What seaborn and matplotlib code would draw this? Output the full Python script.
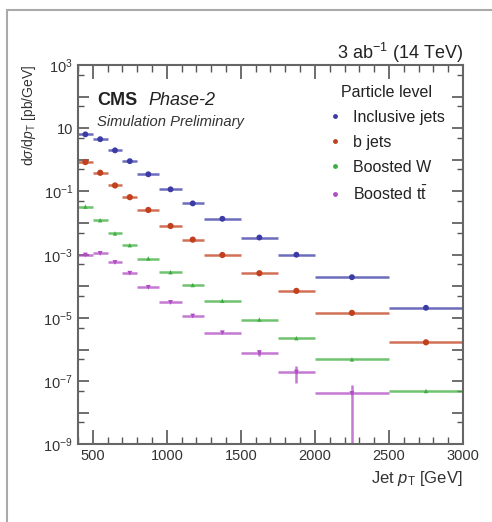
import numpy as np
import pandas as pd
import seaborn as sns
import matplotlib.pyplot as plt
from matplotlib.ticker import FixedLocator, FuncFormatter, MultipleLocator
from matplotlib.lines import Line2D

# bin edges in jet pT [GeV]
bin_edges = [400, 500, 600, 700, 800, 950, 1100, 1250, 1500, 1750, 2000, 2500, 3000]

# dsigma/dpT [pb/GeV]
inclusive = [6.4, 4.5, 2.0, 0.91, 0.35, 0.117, 0.042, 0.0137, 0.0035, 1.0e-3, 1.95e-4, 2.1e-5]
bjets = [0.85, 0.39, 0.155, 0.066, 0.026, 0.0081, 0.0030, 9.8e-4, 2.6e-4, 7.2e-5, 1.45e-5, 1.7e-6]
boosted_w = [0.033, 0.0123, 0.0047, 0.0020, 7.6e-4, 2.8e-4, 1.1e-4, 3.5e-5, 8.9e-6, 2.3e-6, 4.9e-7, 4.9e-8]
boosted_tt = [9.8e-4, 1.1e-3, 5.7e-4, 2.6e-4, 9.3e-5, 3.1e-5, 1.15e-5, 3.4e-6, 8.0e-7, 1.95e-7, 4.1e-8, np.nan]
# vertical uncertainties for boosted ttbar, others negligible
tt_err_up = [0, 0, 0, 0, 0, 0, 0, 0, 1.5e-7, 1.05e-7, 3.3e-8, 0]
tt_err_dn = [0, 0, 0, 0, 0, 0, 0, 0, 1.5e-7, 1.05e-7, 4.1e-8, 0]

labels = ['Inclusive jets', 'b jets', 'Boosted W', r'Boosted t$\mathrm{\bar{t}}$']
colors = ['#3b3ba6', '#c2401e', '#3fae3f', '#b04cc4']
markers = ['o', 'o', '^', 'v']
msizes = [18, 20, 10, 12]

edges = np.array(bin_edges, dtype=float)
centers = 0.5 * (edges[:-1] + edges[1:])
halfw = 0.5 * (edges[1:] - edges[:-1])

rows = []
for lab, vals in zip(labels, [inclusive, bjets, boosted_w, boosted_tt]):
    for c, v in zip(centers, vals):
        rows.append({'pt': c, 'xsec': v, 'sample': lab})
df = pd.DataFrame(rows).dropna()

sns.set_style('white')
plt.rcParams['font.family'] = ['Liberation Sans', 'DejaVu Sans']
plt.rcParams['mathtext.fontset'] = 'custom'
plt.rcParams['mathtext.rm'] = 'Liberation Sans'
plt.rcParams['mathtext.it'] = 'Liberation Sans:italic'
plt.rcParams['axes.unicode_minus'] = False
plt.rcParams['xtick.bottom'] = True
plt.rcParams['ytick.left'] = True

fig = plt.figure(figsize=(4.92, 5.22), dpi=100)
ax = fig.add_axes([0.1585, 0.1485, 0.7825, 0.727])

# horizontal (bin width) and vertical error bars
for lab, vals, col in zip(labels, [inclusive, bjets, boosted_w, boosted_tt], colors):
    v = np.array(vals, dtype=float)
    ok = ~np.isnan(v)
    if lab.startswith('Boosted t'):
        yerr = [np.array(tt_err_dn)[ok], np.array(tt_err_up)[ok]]
    else:
        yerr = None
    ax.errorbar(centers[ok], v[ok], xerr=halfw[ok], yerr=yerr, fmt='none',
                ecolor=col, elinewidth=1.8, alpha=0.75, capsize=0, zorder=2)

sns.scatterplot(data=df, x='pt', y='xsec', hue='sample', style='sample',
                palette=dict(zip(labels, colors)), markers=dict(zip(labels, markers)),
                size='sample', sizes=dict(zip(labels, msizes)),
                edgecolor='none', legend=False, ax=ax, zorder=3)

ax.set_yscale('log')
ax.set_xlim(400, 3000)
ax.set_ylim(1e-9, 1e3)

# ticks
ax.xaxis.set_major_locator(MultipleLocator(500))
ax.xaxis.set_minor_locator(MultipleLocator(100))
ax.yaxis.set_major_locator(FixedLocator([10.0 ** e for e in range(-9, 4)]))
ax.yaxis.set_minor_locator(FixedLocator([5 * 10.0 ** e for e in range(-10, 3)]))


def yfmt(v, pos):
    e = int(round(np.log10(v)))
    if e % 2 == 0:
        return ''
    if e == 1:
        return '10'
    return r'10$^{%d}$' % e


ax.yaxis.set_major_formatter(FuncFormatter(yfmt))
ax.tick_params(which='both', direction='in', bottom=True, left=True, top=True, right=True,
               color='#555555', labelcolor='#333333', labelsize=10.5)
ax.tick_params(axis='x', which='major', length=10, width=1.2)
ax.tick_params(axis='x', which='minor', length=5, width=1.0)
ax.tick_params(axis='y', which='major', length=8, width=1.2)
ax.tick_params(axis='y', which='minor', length=4, width=1.0)
for s in ax.spines.values():
    s.set_color('#666666')
    s.set_linewidth(1.5)

ax.set_xlabel(r'Jet $p_{\rm T}$ [GeV]', loc='right', fontsize=12, color='#333333', labelpad=4)
ax.set_ylabel(r'd$\sigma$/d$p_{\rm T}$ [pb/GeV]', loc='top', fontsize=10, color='#333333', labelpad=4)

# CMS labels
ax.text(0.05, 0.895, 'CMS', transform=ax.transAxes, fontsize=13, fontweight='bold', color='#222222')
ax.text(0.182, 0.895, 'Phase-2', transform=ax.transAxes, fontsize=13, fontstyle='italic', color='#222222')
ax.text(0.05, 0.838, 'Simulation Preliminary', transform=ax.transAxes, fontsize=10.6,
        fontstyle='italic', color='#333333')
ax.text(1.0, 1.016, r'3 ab$^{\mathregular{-1}}$ (14 TeV)', transform=ax.transAxes, ha='right',
        va='baseline', fontsize=13, color='#222222')

# legend
handles = [Line2D([], [], linestyle='none', marker='o', markersize=3.5, color=c, markeredgewidth=0)
           for c in colors]
leg = ax.legend(handles, labels, title='Particle level', loc='upper right',
                bbox_to_anchor=(0.99, 0.985), frameon=False, fontsize=11.5,
                title_fontsize=11.5, handlelength=1.0, handletextpad=0.6, labelspacing=0.62)
for t in leg.get_texts():
    t.set_color('#222222')
leg.get_title().set_color('#222222')

# outer frame lines (left and top)
fig.add_artist(Line2D([0.0142, 0.0142], [0.0, 0.981], transform=fig.transFigure, color='#aaaaaa', lw=1.5))
fig.add_artist(Line2D([0.0142, 1.0], [0.981, 0.981], transform=fig.transFigure, color='#aaaaaa', lw=1.5))

fig.savefig('out.png', dpi=100, facecolor='white')
